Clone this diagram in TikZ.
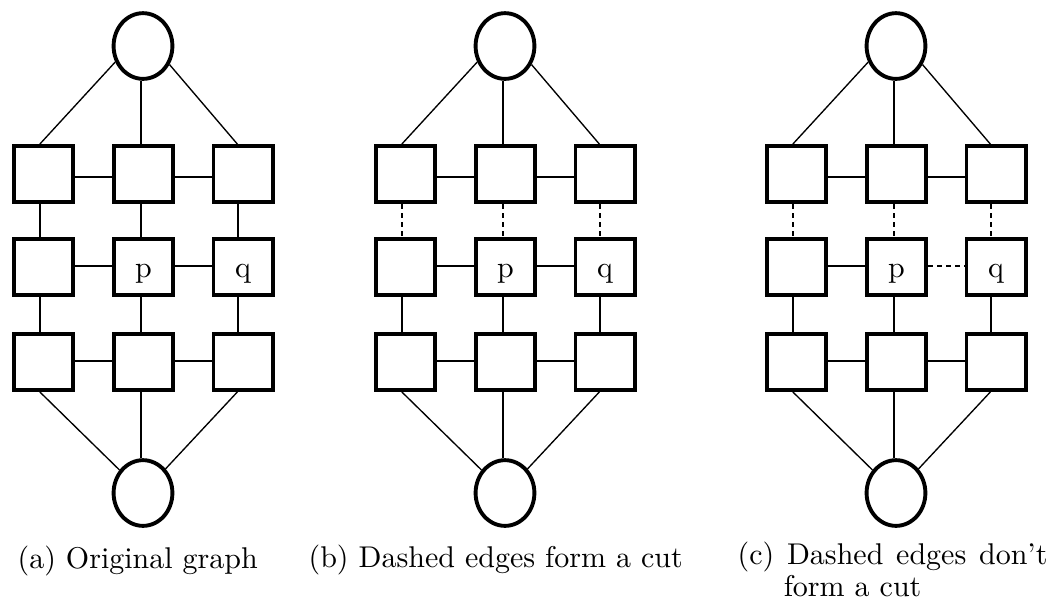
\documentclass[tikz,border=0pt]{standalone}
\usetikzlibrary{shapes.geometric}
\tikzset{
 sq/.style={draw, line width=1.2pt, rectangle, minimum width=19.8pt, minimum height=18.8pt, inner sep=0pt, text height=8pt, text depth=0.7pt},
 circ/.style={draw, line width=1.3pt, ellipse, minimum width=19.6pt, minimum height=21.9pt, inner sep=0pt},
 lnk/.style={line width=0.6pt},
 diag/.style={line width=0.45pt},
 cutlnk/.style={lnk, dash pattern=on 1.8pt off 1.2pt},
 captxt/.style={anchor=base west, inner sep=0pt, font=\fontsize{10}{9.33}\selectfont}
}
\newcommand\gpanel[4]{%
\begin{scope}[shift={(#2,0)}]
 \node[circ] (#1t) at (143,46) {};
 \node[circ] (#1b) at (143,493) {};
 \node[sq] (#111) at (43.5,174) {};
 \node[sq] (#112) at (143.5,174) {};
 \node[sq] (#113) at (243,174) {};
 \node[sq] (#121) at (43.5,267) {};
 \node[sq] (#122) at (143.5,267) {p};
 \node[sq] (#123) at (243,267) {q};
 \node[sq] (#131) at (43.5,362) {};
 \node[sq] (#132) at (143.5,362) {};
 \node[sq] (#133) at (243,362) {};
 % top circle to first row
 \draw[diag] (#1t.210) -- ([xshift=-1.2pt]#111.north);
 \draw[lnk] ([xshift=-0.8pt]#112.north) -- ([xshift=-0.8pt]#112.north |- #1t.south);
 \draw[diag] (#1t.325) -- ([xshift=-1.9pt]#113.north);
 % horizontal edges
 \draw[lnk] ([yshift=-0.9pt]#111.east) -- ([yshift=-0.9pt]#112.west);
 \draw[lnk] ([yshift=-0.9pt]#112.east) -- ([yshift=-0.9pt]#113.west);
 \draw[lnk] ([yshift=0.4pt]#121.east) -- ([yshift=0.4pt]#122.west);
 \draw[#4] ([yshift=0.4pt]#122.east) -- ([yshift=0.4pt]#123.west);
 \draw[lnk] ([yshift=0.3pt]#131.east) -- ([yshift=0.3pt]#132.west);
 \draw[lnk] ([yshift=0.3pt]#132.east) -- ([yshift=0.3pt]#133.west);
 % vertical edges
 \draw[#3] ([xshift=-1.2pt]#111.south) -- ([xshift=-1.2pt]#121.north);
 \draw[#3] ([xshift=-0.8pt]#112.south) -- ([xshift=-0.8pt]#122.north);
 \draw[#3] ([xshift=-1.7pt]#113.south) -- ([xshift=-1.7pt]#123.north);
 \draw[lnk] ([xshift=-1.2pt]#121.south) -- ([xshift=-1.2pt]#131.north);
 \draw[lnk] ([xshift=-0.8pt]#122.south) -- ([xshift=-0.8pt]#132.north);
 \draw[lnk] ([xshift=-1.7pt]#123.south) -- ([xshift=-1.7pt]#133.north);
 % last row to bottom circle
 \draw[diag] ([xshift=-1.2pt]#131.south) -- (#1b);
 \draw[lnk] ([xshift=-0.8pt]#132.south) -- ([xshift=-0.8pt]#132.south |- #1b.north);
 \draw[diag] ([xshift=-1.9pt]#133.south) -- (#1b);
\end{scope}}
\begin{document}
\begin{tikzpicture}[x=0.33333pt, y=-0.33333pt]
 \useasboundingbox (0,0) rectangle (1060,608);
 \gpanel{a}{0}{lnk}{lnk}
 \gpanel{b}{362}{cutlnk}{lnk}
 \gpanel{c}{753}{cutlnk}{cutlnk}
 \node[captxt] (capa) at (17,568) {(a) Original graph};
 \node[captxt] (capb) at (308,567) {(b) Dashed edges form a cut};
 \node[captxt, align=left] (capc) at (737,596) {\makebox[103.3pt][s]{(c) Dashed edges don’t}\\\hspace*{15.4pt}form a cut};
\end{tikzpicture}
\end{document}
